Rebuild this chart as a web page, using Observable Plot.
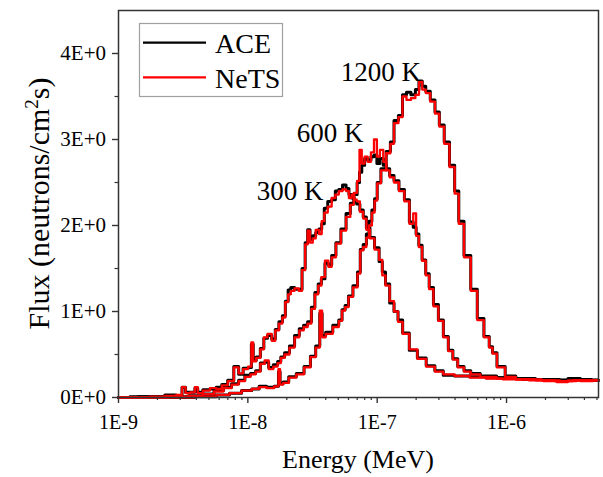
<!DOCTYPE html>
<html><head><meta charset="utf-8">
<script src="https://cdn.jsdelivr.net/npm/d3@7"></script>
<script src="https://cdn.jsdelivr.net/npm/@observablehq/plot@0.6"></script>
<style>body{margin:0;background:#fff}#chart{width:603px;height:477px}</style>
</head><body><div id="chart"></div>
<script>
// ---- 300 K ----
const energy300 = [1.0e-9,1.5e-9,2.0e-9,2.6e-9,3.0e-9,3.2e-9,3.4e-9,3.8e-9,4.0e-9,4.2e-9,
  4.8e-9,5.4e-9,6.0e-9,6.6e-9,7.4e-9,8.2e-9,8.8e-9,9.6e-9,1.05e-8,1.08e-8,
  1.12e-8,1.2e-8,1.3e-8,1.36e-8,1.48e-8,1.58e-8,1.68e-8,1.8e-8,1.9e-8,2.0e-8,
  2.1e-8,2.2e-8,2.4e-8,2.55e-8,2.7e-8,2.85e-8,2.95e-8,3.1e-8,3.25e-8,3.45e-8,
  3.65e-8,3.8e-8,4.0e-8,4.3e-8,4.6e-8,4.9e-8,5.2e-8,5.6e-8,5.9e-8,6.2e-8,
  6.5e-8,6.8e-8,7.1e-8,7.6e-8,8.0e-8,8.5e-8,9.1e-8,1.0e-7,1.07e-7,1.12e-7,
  1.2e-7,1.3e-7,1.4e-7,1.5e-7,1.65e-7,1.9e-7,2.2e-7,2.6e-7,3.0e-7,3.5e-7,
  4.5e-7,6.0e-7,8.0e-7,1.1e-6,1.6e-6,2.2e-6,3.0e-6,4.0e-6,5.14e-6];
const nets300 = [0.00,0.00,0.01,0.02,0.03,0.12,0.05,0.06,0.12,0.05,
  0.08,0.11,0.10,0.14,0.19,0.35,0.28,0.33,0.36,0.64,
  0.42,0.46,0.56,0.70,0.74,0.66,0.78,0.86,0.93,1.11,
  1.20,1.24,1.27,1.24,1.48,1.78,1.94,1.80,1.85,1.95,
  1.90,2.05,2.15,2.22,2.32,2.36,2.40,2.42,2.40,2.32,
  2.36,2.30,2.28,2.16,2.08,1.95,1.85,1.72,1.60,1.42,
  1.30,1.12,1.00,0.88,0.74,0.56,0.45,0.36,0.30,0.27,
  0.25,0.23,0.22,0.21,0.21,0.20,0.19,0.20,0.20];
const ace300 = [0.00,0.01,0.01,0.03,0.02,0.12,0.06,0.06,0.11,0.06,
  0.09,0.10,0.12,0.15,0.20,0.36,0.27,0.34,0.35,0.62,
  0.43,0.47,0.57,0.69,0.72,0.68,0.79,0.88,0.95,1.12,
  1.25,1.28,1.26,1.26,1.50,1.80,1.95,1.84,1.88,1.92,
  1.96,2.02,2.20,2.28,2.30,2.40,2.42,2.47,2.43,2.36,
  2.32,2.28,2.25,2.18,2.10,1.97,1.86,1.74,1.58,1.46,
  1.32,1.10,1.00,0.90,0.75,0.55,0.46,0.37,0.31,0.26,
  0.25,0.24,0.23,0.22,0.21,0.21,0.20,0.21,0.20];

// ---- 600 K ----
const energy600 = [1.0e-9,2.0e-9,3.0e-9,4.0e-9,5.0e-9,6.0e-9,7.0e-9,8.0e-9,9.0e-9,1.0e-8,
  1.1e-8,1.2e-8,1.3e-8,1.4e-8,1.5e-8,1.65e-8,1.75e-8,1.85e-8,2.0e-8,2.2e-8,
  2.4e-8,2.6e-8,2.8e-8,3.0e-8,3.2e-8,3.4e-8,3.6e-8,3.8e-8,4.1e-8,4.3e-8,
  4.6e-8,5.0e-8,5.5e-8,6.0e-8,6.4e-8,6.8e-8,7.2e-8,7.4e-8,7.8e-8,8.2e-8,
  8.7e-8,9.2e-8,9.7e-8,1.02e-7,1.08e-7,1.15e-7,1.2e-7,1.3e-7,1.4e-7,1.55e-7,
  1.7e-7,1.85e-7,1.95e-7,2.05e-7,2.15e-7,2.3e-7,2.45e-7,2.6e-7,2.85e-7,3.1e-7,
  3.4e-7,3.7e-7,4.0e-7,4.4e-7,5.0e-7,5.6e-7,7.0e-7,1.0e-6,1.4e-6,2.0e-6,
  2.8e-6,3.8e-6,5.14e-6];
const nets600 = [0.00,0.00,0.01,0.02,0.04,0.07,0.11,0.15,0.19,0.24,
  0.27,0.30,0.39,0.43,0.33,0.36,0.40,0.46,0.50,0.58,
  0.70,0.78,0.82,0.86,1.03,1.20,1.30,1.40,1.59,1.52,
  1.63,1.79,1.94,2.10,2.24,2.38,2.52,2.88,2.72,2.80,
  2.74,2.85,3.00,2.80,2.88,2.74,2.64,2.56,2.50,2.40,
  2.28,2.02,2.14,1.88,1.75,1.59,1.42,1.26,1.06,0.89,
  0.70,0.54,0.44,0.35,0.30,0.27,0.24,0.22,0.21,0.20,
  0.19,0.20,0.20];
const ace600 = [0.00,0.01,0.01,0.02,0.04,0.08,0.12,0.16,0.20,0.26,
  0.28,0.31,0.40,0.41,0.35,0.38,0.42,0.47,0.52,0.60,
  0.72,0.80,0.84,0.88,1.05,1.22,1.32,1.38,1.56,1.54,
  1.65,1.80,1.96,2.14,2.26,2.36,2.50,2.62,2.70,2.78,
  2.76,2.80,2.82,2.72,2.78,2.70,2.66,2.58,2.52,2.42,
  2.30,2.04,1.98,1.90,1.77,1.60,1.44,1.28,1.08,0.90,
  0.71,0.55,0.45,0.36,0.31,0.28,0.25,0.23,0.22,0.21,
  0.20,0.21,0.20];

// ---- 1200 K ----
const energy1200 = [1.0e-9,3.0e-9,5.0e-9,6.5e-9,8.0e-9,1.0e-8,1.15e-8,1.3e-8,1.5e-8,1.7e-8,
  1.75e-8,1.8e-8,1.95e-8,2.2e-8,2.55e-8,2.9e-8,3.2e-8,3.5e-8,3.7e-8,3.8e-8,
  4.2e-8,4.9e-8,5.2e-8,5.5e-8,5.8e-8,6.2e-8,6.8e-8,7.3e-8,7.5e-8,8.1e-8,
  8.4e-8,8.9e-8,9.3e-8,9.8e-8,1.02e-7,1.12e-7,1.23e-7,1.3e-7,1.4e-7,1.52e-7,
  1.62e-7,1.75e-7,1.9e-7,2.05e-7,2.16e-7,2.3e-7,2.45e-7,2.7e-7,2.9e-7,3.15e-7,
  3.45e-7,3.8e-7,4.15e-7,4.4e-7,5.0e-7,5.6e-7,6.3e-7,7.1e-7,7.6e-7,8.0e-7,
  8.9e-7,1.07e-6,1.3e-6,1.7e-6,2.2e-6,2.7e-6,3.3e-6,4.2e-6,5.14e-6];
const nets1200 = [0.00,0.00,0.01,0.03,0.05,0.08,0.10,0.12,0.11,0.13,
  0.33,0.15,0.17,0.23,0.27,0.35,0.47,0.58,1.01,0.70,
  0.74,0.82,0.89,1.01,1.05,1.17,1.28,1.44,1.71,1.75,
  1.86,2.00,2.15,2.29,2.49,2.64,2.84,2.95,3.19,3.26,
  3.50,3.46,3.48,3.52,3.67,3.58,3.54,3.44,3.30,3.15,
  2.95,2.68,2.37,2.02,1.63,1.24,0.90,0.70,0.58,0.51,
  0.35,0.24,0.21,0.20,0.19,0.18,0.20,0.19,0.20];
const ace1200 = [0.00,0.00,0.01,0.03,0.05,0.08,0.10,0.13,0.12,0.13,
  0.30,0.16,0.18,0.24,0.28,0.36,0.48,0.60,0.98,0.72,
  0.76,0.84,0.90,1.02,1.07,1.18,1.30,1.46,1.72,1.78,
  1.90,2.05,2.18,2.31,2.50,2.66,2.86,2.97,3.22,3.28,
  3.52,3.55,3.52,3.58,3.68,3.62,3.56,3.46,3.32,3.17,
  2.97,2.70,2.40,2.05,1.65,1.26,0.92,0.71,0.59,0.52,
  0.36,0.25,0.22,0.21,0.20,0.20,0.22,0.20,0.20];

// ---- labels & ticks ----
const tempLabels = ["300 K", "600 K", "1200 K"];
const labelEnergy = [1.17e-8, 2.39e-8, 5.22e-8];
const labelFlux = [2.40, 3.07, 3.78];
const xMajorTicks = [1e-9, 1e-8, 1e-7, 1e-6];
const xMinorTicks = [2e-9,3e-9,4e-9,5e-9,6e-9,7e-9,8e-9,9e-9,
  2e-8,3e-8,4e-8,5e-8,6e-8,7e-8,8e-8,9e-8,
  2e-7,3e-7,4e-7,5e-7,6e-7,7e-7,8e-7,9e-7,
  2e-6,3e-6,4e-6,5e-6];
const yMajorTicks = [0, 1, 2, 3, 4];
const yMinorTicks = [0.5, 1.5, 2.5, 3.5];
const legendNames = ["ACE", "NeTS"];

const series = [
  {T: tempLabels[0], E: energy300, ace: ace300, nets: nets300},
  {T: tempLabels[1], E: energy600, ace: ace600, nets: nets600},
  {T: tempLabels[2], E: energy1200, ace: ace1200, nets: nets1200}
];
const aceRows = series.flatMap(s => s.E.map((E, i) => ({T: s.T, E, F: s.ace[i]})));
const netsRows = series.flatMap(s => s.E.map((E, i) => ({T: s.T, E, F: s.nets[i]})));
const labelRows = tempLabels.map((t, i) => ({t, E: labelEnergy[i], F: labelFlux[i]}));

const FONT = "'Liberation Serif', 'Times New Roman', serif";
const chart = Plot.plot({
  width: 603, height: 477,
  marginLeft: 118, marginRight: 5, marginTop: 10, marginBottom: 80,
  style: {fontFamily: FONT, background: "#fff", color: "#000"},
  x: {type: "log", domain: [1e-9, 5.14e-6]},
  y: {domain: [0, 4.5]},
  marks: [
    Plot.line(aceRows, {x: "E", y: "F", z: "T", stroke: "#000", strokeWidth: 3, curve: "step"}),
    Plot.line(netsRows, {x: "E", y: "F", z: "T", stroke: "#ff0000", strokeWidth: 2.3, curve: "step"}),
    Plot.text(labelRows, {x: "E", y: "F", text: "t", textAnchor: "start", fontSize: 27, fill: "#000"}),
    Plot.frame({stroke: "#333", strokeWidth: 1.5}),
    Plot.axisX({ticks: xMajorTicks, tickFormat: d => "1E" + Math.round(Math.log10(d)), tickSize: 6, tickPadding: 11, fontSize: 20, label: null, stroke: "#333", strokeWidth: 1.4}),
    Plot.axisX({ticks: xMinorTicks, tickFormat: () => "", tickSize: 3, label: null, stroke: "#333", strokeWidth: 1.2}),
    Plot.axisY({ticks: yMajorTicks, tickFormat: d => d + "E+0", tickSize: 6, tickPadding: 6.5, fontSize: 21, label: null, stroke: "#333", strokeWidth: 1.4}),
    Plot.axisY({ticks: yMinorTicks, tickFormat: () => "", tickSize: 3.5, label: null, stroke: "#333", strokeWidth: 1.2})
  ]
});
document.getElementById("chart").appendChild(chart);

// axis titles and legend
const svg = d3.select(chart);
svg.append("text").attr("x", 358).attr("y", 468).attr("text-anchor", "middle")
  .attr("font-family", FONT).attr("font-size", 26).attr("fill", "#000").text("Energy (MeV)");
const yt = svg.append("text").attr("transform", "translate(49,203.5) rotate(-90)")
  .attr("text-anchor", "middle").attr("font-family", FONT).attr("font-size", 30).attr("fill", "#000");
yt.append("tspan").text("Flux (neutrons/cm");
yt.append("tspan").attr("dy", -11).attr("font-size", 19).text("2");
yt.append("tspan").attr("dy", 11).text("s)");

const lg = svg.append("g");
lg.append("rect").attr("x", 139.5).attr("y", 23.5).attr("width", 143).attr("height", 73)
  .attr("fill", "#fff").attr("stroke", "#a0a0a0").attr("stroke-width", 1.2);
const legendColors = ["#000", "#ff0000"];
legendNames.forEach((n, i) => {
  const yy = 42.7 + i * 34.6;
  lg.append("line").attr("x1", 143).attr("x2", 206).attr("y1", yy).attr("y2", yy)
    .attr("stroke", legendColors[i]).attr("stroke-width", 2.2);
  lg.append("text").attr("x", 215).attr("y", yy + 10.6).attr("text-anchor", "start")
    .attr("font-family", FONT).attr("font-size", 28).attr("fill", "#000").text(n);
});
</script>
</body></html>
